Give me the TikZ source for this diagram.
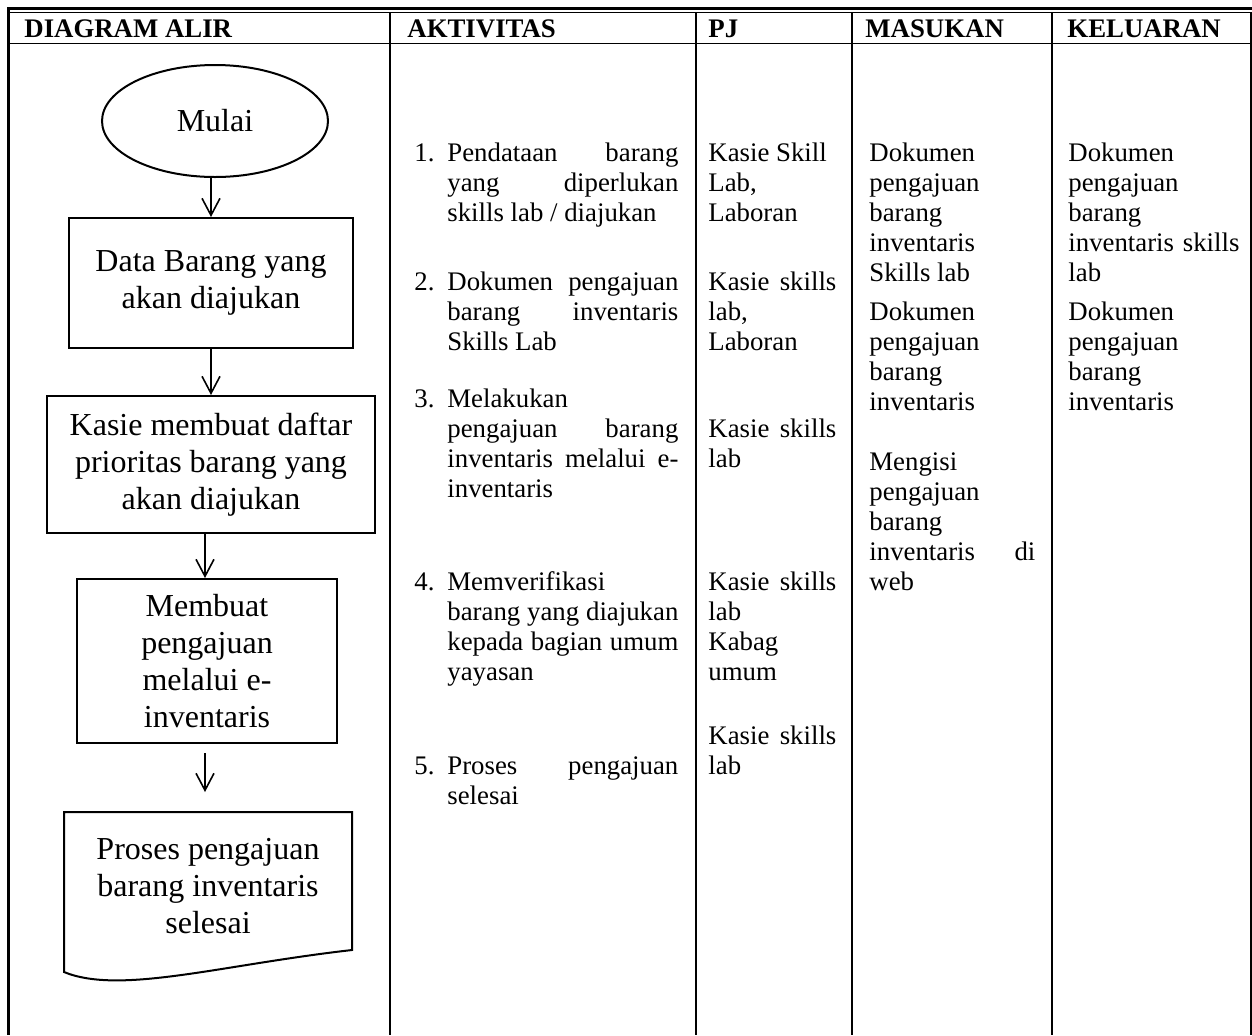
\documentclass[tikz,border=0pt]{standalone}
\usepackage{fontspec}
\setmainfont{Liberation Serif}
\usetikzlibrary{
	shapes.geometric,
	arrows.meta
}
\newcommand{\bodyfont}{\fontsize{13.4}{15}\selectfont}
\newcommand{\flowfont}{\fontsize{16}{18.5}\selectfont}
\tolerance=10000
\hbadness=10000

\begin{document}
\begin{tikzpicture}[
	x = 0.5pt, y = -0.5pt,
	head/.style = {
		anchor=base west, inner sep=0pt,
		font=\bodyfont\bfseries
	},
	num/.style = {anchor=base west, inner sep=0pt, font=\bodyfont},
	cell/.style = {
		anchor=base west, inner sep=0pt,
		text width=#1, align=justify,
		font=\bodyfont
	},
	flow/.style = {
		rectangle, draw, line width=1pt,
		inner sep=0pt, align=center,
		font=\flowfont
	},
	arr/.style = {
		-{Straight Barb[length=8.5pt,width=9pt]},
		line width=0.8pt
	}
]
	\fill[white] (0,0) rectangle (1252,1035);
	\useasboundingbox (0,0) rectangle (1252,1035);

	% table frame
	\draw[line width=1.5pt] (7,8.8) -- (1252,8.8);
	\draw[line width=0.65pt] (10,12.7) -- (1252,12.7);
	\draw[line width=1.5pt] (8.8,7.3) -- (8.8,1035);
	\draw[line width=0.75pt] (10,43.3) -- (1251,43.3);
	\foreach \x in {389.7, 695.5, 851.8, 1051.8}
		\draw[line width=1pt] (\x,12.7) -- (\x,1035);
	\draw[line width=0.7pt] (1250.8,12.7) -- (1250.8,1035);

	% header
	\node[head] (hAlir) at (24,37) {DIAGRAM ALIR};
	\node[head] (hAkt) at (407,37) {AKTIVITAS};
	\node[head] (hPj) at (708,37) {PJ};
	\node[head] (hMas) at (865,37) {MASUKAN};
	\node[head] (hKel) at (1067,37) {KELUARAN};

	% flow chart
	\node[ellipse, draw, line width=1pt, inner sep=0pt,
		minimum width=113pt, minimum height=56pt,
		font=\flowfont] (mulai) at (215,121) {Mulai};
	\node[flow, minimum width=142pt, minimum height=65pt]
		(data) at (211,283) {Data Barang yang\\akan diajukan};
	\node[flow, minimum width=164pt, minimum height=68.5pt]
		(daftar) at (211,464.5) {Kasie membuat daftar\\prioritas barang yang\\akan diajukan};
	\node[flow, minimum width=130pt, minimum height=82pt]
		(buat) at (207,661) {Membuat\\pengajuan\\melalui e-\\inventaris};
	\node[inner sep=0pt, align=center, font=\flowfont]
		(selesai) at (208,886) {Proses pengajuan\\barang inventaris\\selesai};
	\draw[line width=1pt] (64,812) -- (352,812) -- (352,950)
		.. controls (220,965) and (120,995) .. (64,972) -- cycle;

	\coordinate (a4s) at (205,753);
	\coordinate (a4e) at (205,792);
	\draw[arr] (mulai.south -| data.north) -- (data.north);
	\draw[arr] (data) -- (daftar);
	\draw[arr] (daftar.south -| a4s) -- (a4s |- buat.north);
	\draw[arr] (a4s) -- (a4e);

	% aktivitas
	\node[num] (n1) at (414,161) {1.};
	\node[cell=115.5pt] (akt1) at (447,161)
		{Pendataan barang\linebreak yang diperlukan\linebreak skills lab / diajukan};
	\node[num] (n2) at (414,290) {2.};
	\node[cell=115.5pt] (akt2) at (447,290)
		{Dokumen pengajuan\linebreak barang inventaris\linebreak Skills Lab};
	\node[num] (n3) at (414,407) {3.};
	\node[cell=115.5pt] (akt3) at (447,407)
		{Melakukan\\ pengajuan barang\linebreak inventaris melalui e-\linebreak inventaris};
	\node[num] (n4) at (414,590) {4.};
	\node[cell=115.5pt] (akt4) at (447,590)
		{Memverifikasi\\ barang yang diajukan\linebreak kepada bagian umum\linebreak yayasan};
	\node[num] (n5) at (414,774) {5.};
	\node[cell=115.5pt] (akt5) at (447,774)
		{Proses pengajuan\linebreak selesai};

	% pj
	\node[cell=64pt] (pj1) at (708,161) {Kasie Skill\\ Lab,\\ Laboran};
	\node[cell=64pt] (pj2) at (708,290) {Kasie skills\linebreak lab,\\ Laboran};
	\node[cell=64pt] (pj3) at (708,437) {Kasie skills\linebreak lab};
	\node[cell=64pt] (pj4) at (708,590) {Kasie skills\linebreak lab\\ Kabag\\ umum};
	\node[cell=64pt] (pj5) at (708,744) {Kasie skills\linebreak lab};

	% masukan
	\node[cell=83pt] (mas1) at (869,161)
		{Dokumen\\ pengajuan\\ barang\\ inventaris\\ Skills lab};
	\node[cell=83pt] (mas2) at (869,320)
		{Dokumen\\ pengajuan\\ barang\\ inventaris};
	\node[cell=83pt] (mas3) at (869,470)
		{Mengisi\\ pengajuan\\ barang\\ inventaris di\linebreak web};

	% keluaran
	\node[cell=85.5pt] (kel1) at (1068,161)
		{Dokumen\\ pengajuan\\ barang\\ inventaris skills\linebreak lab};
	\node[cell=85.5pt] (kel2) at (1068,320)
		{Dokumen\\ pengajuan\\ barang\\ inventaris};
\end{tikzpicture}
\end{document}
